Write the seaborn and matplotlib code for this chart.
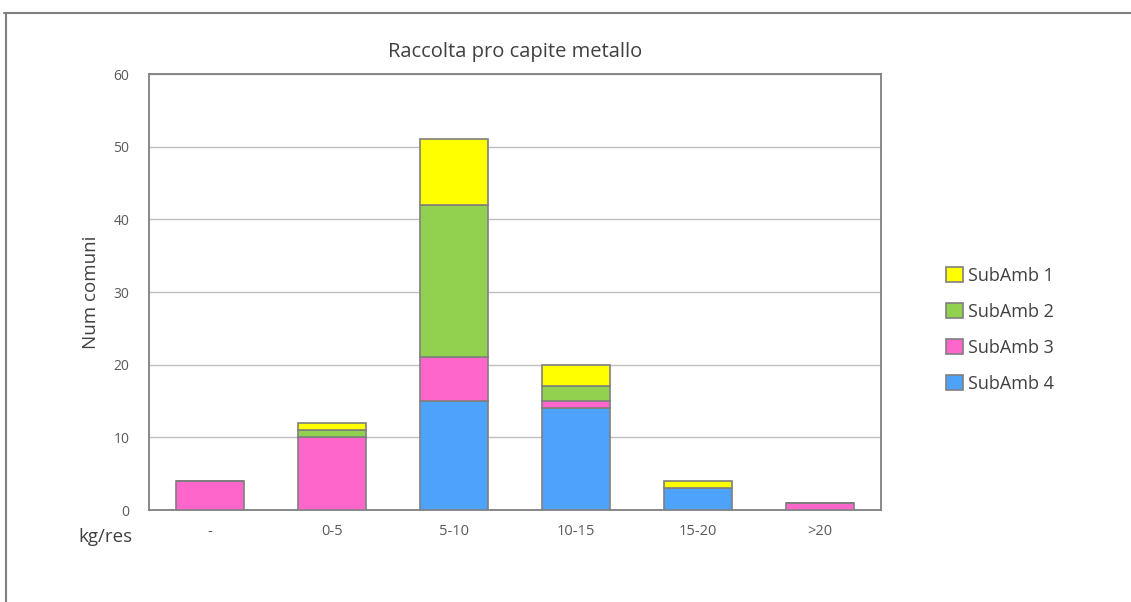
import seaborn as sns
import matplotlib.pyplot as plt
from matplotlib.lines import Line2D

categories = ['-', '0-5', '5-10', '10-15', '15-20', '>20']
sub4 = [0, 0, 15, 14, 3, 0]
sub3 = [4, 10, 6, 1, 0, 1]
sub2 = [0, 1, 21, 2, 0, 0]
sub1 = [0, 1, 9, 3, 1, 0]
series = [('SubAmb 4', sub4, '#4DA3FA'),
          ('SubAmb 3', sub3, '#FF66CC'),
          ('SubAmb 2', sub2, '#92D050'),
          ('SubAmb 1', sub1, '#FFFF00')]

sns.set_style('white')
plt.rcParams['font.family'] = ['Open Sans', 'DejaVu Sans']

fig = plt.figure(figsize=(11.31, 6.02), dpi=100)
ax = fig.add_axes([149/1131, 92/602, 732/1131, 436/602])

bottom = [0] * len(categories)
handles = []
for name, vals, col in series:
    sns.barplot(x=categories, y=vals, bottom=bottom, color=col, width=0.56, saturation=1,
                edgecolor='#7F7F7F', linewidth=1.2, ax=ax, zorder=3)
    bottom = [b + v for b, v in zip(bottom, vals)]
    handles.append(plt.Rectangle((0, 0), 1, 1, facecolor=col, edgecolor='#7F7F7F', linewidth=1.2))

ax.set_ylim(0, 60)
ax.set_xlim(-0.5, 5.5)
ax.set_yticks(range(0, 61, 10))
ax.yaxis.grid(True, color='#BFBFBF', linewidth=1, zorder=0)
ax.set_axisbelow(True)
for s in ax.spines.values():
    s.set_visible(True)
    s.set_color('#7F7F7F')
    s.set_linewidth(1.3)
ax.tick_params(axis='both', length=0, colors='#595959')
ax.tick_params(axis='y', labelsize=10, pad=14)
ax.tick_params(axis='x', labelsize=10.5, pad=10)
ax.set_ylabel('Num comuni', fontsize=13.5, color='#404040', labelpad=10)
ax.set_xlabel('')
ax.set_title('Raccolta pro capite metallo', fontsize=14.5, color='#404040', pad=12)

fig.text(105/1131, 1 - 537/602, 'kg/res', fontsize=13.5, color='#404040', ha='center', va='center')

leg = fig.legend(handles[::-1], [s[0] for s in series][::-1], loc='center left',
                 bbox_to_anchor=(930/1131, 1 - 330/602), frameon=False, fontsize=13,
                 handlelength=0.9, handleheight=0.9, handletextpad=0.3, labelspacing=1.0,
                 labelcolor='#404040')

# outer chart frame (top and left edges)
fig.add_artist(Line2D([4/1131, 1], [1 - 13/602, 1 - 13/602], color='#7F7F7F', linewidth=1.5, transform=fig.transFigure))
fig.add_artist(Line2D([6/1131, 6/1131], [0, 1 - 13/602], color='#7F7F7F', linewidth=1.5, transform=fig.transFigure))

fig.savefig('out.png', dpi=100)
